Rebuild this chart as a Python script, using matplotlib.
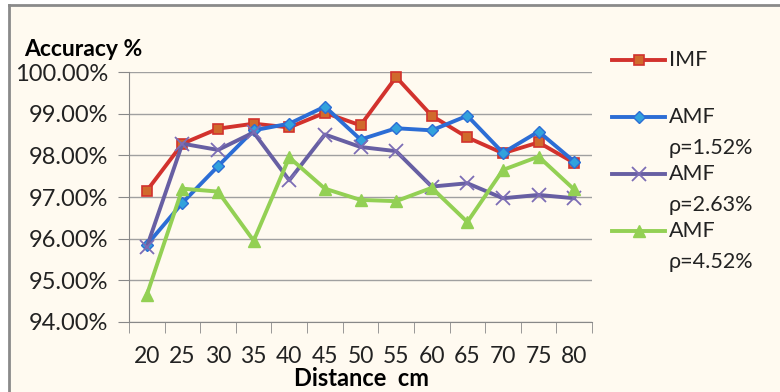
import matplotlib.pyplot as plt
from matplotlib.lines import Line2D

distance = [20, 25, 30, 35, 40, 45, 50, 55, 60, 65, 70, 75, 80]
imf = [97.15, 98.28, 98.64, 98.76, 98.67, 99.02, 98.72, 99.88, 98.95, 98.43, 98.05, 98.31, 97.82]
amf_152 = [95.85, 96.86, 97.74, 98.60, 98.76, 99.17, 98.38, 98.65, 98.60, 98.95, 98.06, 98.57, 97.85]
amf_263 = [95.80, 98.28, 98.13, 98.55, 97.40, 98.50, 98.20, 98.10, 97.25, 97.33, 96.97, 97.05, 96.97]
amf_452 = [94.65, 97.20, 97.13, 95.95, 97.95, 97.20, 96.93, 96.90, 97.22, 96.40, 97.65, 97.97, 97.18]
yticks = [94, 95, 96, 97, 98, 99, 100]

font = ['Lato', 'DejaVu Sans']
plt.rcParams['font.family'] = font
bg = '#FFFAF0'

fig = plt.figure(figsize=(7.8, 3.92), dpi=100, facecolor='white')
# cream panel with grey frame on top/left
fig.patches.append(plt.Rectangle((9 / 780, 0), 1, 1 - 5 / 392, transform=fig.transFigure,
                                 facecolor=bg, edgecolor='none', zorder=-5))
fig.add_artist(Line2D([9 / 780, 9 / 780], [0, 1 - 5 / 392], transform=fig.transFigure, color='#8a8a8a', lw=2))
fig.add_artist(Line2D([9 / 780, 1], [1 - 5 / 392, 1 - 5 / 392], transform=fig.transFigure, color='#8a8a8a', lw=2))

ax = fig.add_axes([129 / 780, 1 - 322 / 392, (592 - 129) / 780, (322 - 72) / 392])
ax.set_facecolor(bg)
x = list(range(len(distance)))

series = [
    (imf, 'IMF', '#D2322D', dict(marker='s', markersize=7, markerfacecolor='#D06A2C', markeredgecolor='#D2322D', markeredgewidth=1.2)),
    (amf_152, 'AMF\nρ=1.52%', '#2C6DD5', dict(marker='D', markersize=6.5, markerfacecolor='#32A2DC', markeredgecolor='#2C6DD5', markeredgewidth=1)),
    (amf_263, 'AMF\nρ=2.63%', '#675FA3', dict(marker='x', markersize=10, markeredgecolor='#7C6DB5', markeredgewidth=1.3)),
    (amf_452, 'AMF\nρ=4.52%', '#93D054', dict(marker='^', markersize=9, markerfacecolor='#93D054', markeredgecolor='#93D054')),
]
for vals, label, color, mk in series:
    ax.plot(x, vals, color=color, lw=2.8, clip_on=False, zorder=3, **mk)

ax.set_xlim(-0.5, len(distance) - 0.5)
ax.set_ylim(94, 100)
ax.set_yticks(yticks)
ax.set_yticklabels([f'{v:.2f}%' for v in yticks], fontsize=17, color='#222222')
ax.set_xticks(x)
ax.set_xticklabels([str(d) for d in distance], fontsize=16.5, color='#222222')
ax.set_xticks([i - 0.5 for i in range(len(distance) + 1)], minor=True)
ax.tick_params(axis='x', which='major', length=0, pad=17)
ax.tick_params(axis='x', which='minor', length=8, color='#888888', direction='out')
ax.tick_params(axis='y', length=8, color='#888888', direction='out', pad=7)
ax.grid(axis='y', color='#A0A0A0', lw=1)
ax.set_axisbelow(True)
for s in ['top', 'right']:
    ax.spines[s].set_visible(False)
for s in ['left', 'bottom']:
    ax.spines[s].set_color('#888888')

fig.text(24 / 780, 1 - 49 / 392, 'Accuracy %', fontsize=16.5, fontweight='bold', va='center', ha='left')
fig.text(362 / 780, 1 - 378 / 392, 'Distance  cm', fontsize=17, fontweight='bold', va='center', ha='center')

# legend drawn manually at right
leg_y = [60, 117, 174, 231]
for (vals, label, color, mk), yy in zip(series, leg_y):
    yf = 1 - yy / 392
    fig.add_artist(Line2D([612 / 780, 665 / 780], [yf, yf], transform=fig.transFigure, color=color, lw=2.8))
    fig.add_artist(Line2D([638.5 / 780], [yf], transform=fig.transFigure, color=color, **mk))
    lines = label.split('\n')
    fig.text(669 / 780, yf, lines[0], fontsize=15.5, va='center', ha='left', color='#222222')
    if len(lines) > 1:
        fig.text(669 / 780, 1 - (yy + 31) / 392, lines[1], fontsize=15.5, va='center', ha='left', color='#222222')

fig.savefig('out.png', dpi=100, facecolor='white')
